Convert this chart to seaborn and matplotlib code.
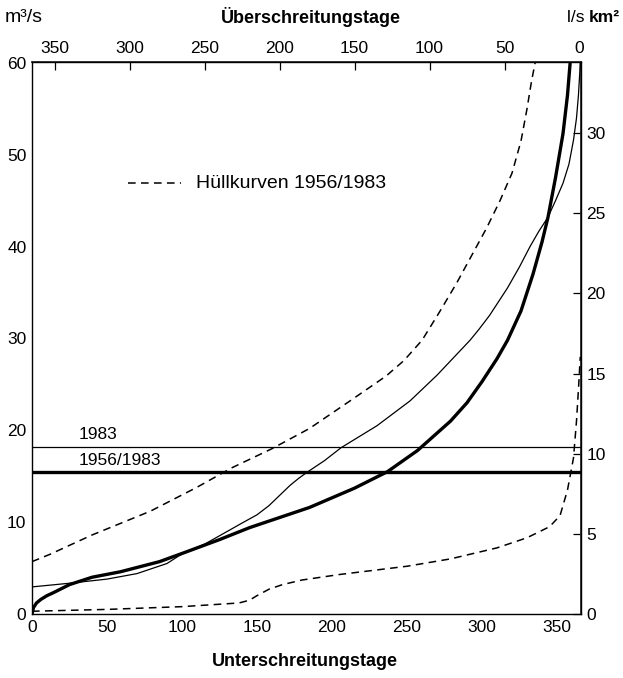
import matplotlib
matplotlib.use("Agg")
import matplotlib.pyplot as plt
import seaborn as sns

# ---- data ----
# thick solid: mean duration curve 1956/1983
thick_days = [0, 1, 3, 6, 10, 14, 25, 40, 59, 85, 101, 125, 145, 165, 185, 215, 237, 257, 279, 290, 300, 310, 317, 326, 334, 340, 344, 349, 354, 357, 359]
thick_q = [0, 0.7, 1.2, 1.6, 2.0, 2.3, 3.2, 4.0, 4.6, 5.7, 6.65, 8.1, 9.4, 10.5, 11.6, 13.7, 15.5, 17.8, 21.0, 23.0, 25.3, 27.8, 29.8, 33.0, 37.0, 40.5, 43.2, 47.5, 52.3, 56.5, 60.5]

# thin solid: 1983
thin_days = [0, 25, 50, 70, 90, 101, 115, 127, 140, 150, 158, 165, 172, 178, 184, 195, 206, 230, 252, 270, 292, 298, 305, 311, 317, 325, 332, 338, 344, 349, 354, 358, 361, 363, 364.3, 365.2, 365.6]
thin_q = [2.95, 3.35, 3.8, 4.4, 5.5, 6.65, 7.6, 8.7, 9.9, 10.8, 11.8, 12.9, 14.0, 14.8, 15.5, 16.7, 18.1, 20.5, 23.2, 26.0, 29.8, 31.0, 32.5, 34.0, 35.5, 37.8, 40.0, 41.7, 43.2, 45.0, 46.9, 49.0, 51.6, 54.0, 56.5, 59.0, 60.5]

# dashed upper envelope
upper_days = [0, 12, 40, 79, 110, 133, 160, 185, 212, 236, 248, 260, 271, 283, 293, 303, 312, 320, 326, 330, 333, 336]
upper_q = [5.7, 6.5, 8.6, 11.2, 13.8, 15.9, 18.0, 20.2, 23.2, 25.9, 27.6, 29.8, 32.7, 36.0, 39.0, 42.0, 45.0, 48.0, 51.5, 55.0, 58.0, 60.5]

# dashed lower envelope
lower_days = [0, 50, 100, 138, 145, 150, 158, 167, 180, 205, 250, 279, 310, 330, 345, 352, 357, 361, 363, 364.5, 365.5]
lower_q = [0.3, 0.5, 0.8, 1.2, 1.5, 2.0, 2.7, 3.2, 3.7, 4.3, 5.2, 6.0, 7.2, 8.3, 9.5, 10.7, 13.5, 17.0, 21.0, 25.0, 28.0]

mq_1983 = 18.2
mq_1956_1983 = 15.5

bottom_ticks = [0, 50, 100, 150, 200, 250, 300, 350]
top_ticks = [0, 50, 100, 150, 200, 250, 300, 350]
left_ticks = [0, 10, 20, 30, 40, 50, 60]
right_ticks = [0, 5, 10, 15, 20, 25, 30]
area_factor = 1.745  # m3/s per (l/s km2)

sns.set_theme(style="white")
plt.rcParams['font.family'] = ['Liberation Sans', 'DejaVu Sans']
plt.rcParams['text.color'] = 'black'

fig = plt.figure(figsize=(6.23, 6.78), dpi=100)
ax = fig.add_axes([32/623, 64/678, (581-32)/623, (614-62)/678])

dash = (0, (5, 3.5))
sns.lineplot(x=thick_days, y=thick_q, ax=ax, color='black', lw=2.4, sort=False, estimator=None)
sns.lineplot(x=thin_days, y=thin_q, ax=ax, color='black', lw=0.9, sort=False, estimator=None)
sns.lineplot(x=upper_days, y=upper_q, ax=ax, color='black', lw=1.1, sort=False, estimator=None, linestyle=dash)
sns.lineplot(x=lower_days, y=lower_q, ax=ax, color='black', lw=1.1, sort=False, estimator=None, linestyle=dash)

ax.axhline(mq_1983, color='black', lw=0.9)
ax.axhline(mq_1956_1983, color='black', lw=2.4)
ax.text(31, mq_1983 + 0.5, "1983", fontsize=12.5, ha='left', va='bottom')
ax.text(31, mq_1956_1983 + 0.45, "1956/1983", fontsize=12.5, ha='left', va='bottom')

# legend for envelope curves
ax.plot([64, 99], [46.9, 46.9], color='black', lw=1.1, linestyle=dash)
ax.text(109, 46.9, "Hüllkurven 1956/1983", fontsize=14, ha='left', va='center')

ax.set_xlim(0, 366)
ax.set_ylim(0, 60.1)
ax.set_xticks(bottom_ticks)
ax.set_yticks(left_ticks)
ax.set_xlabel("")
ax.set_ylabel("")
for s in ax.spines.values():
    s.set_color('black')
    s.set_linewidth(1.0)
ax.tick_params(direction='in', length=6, width=0.9, colors='black', labelsize=12.5, pad=4)

top = ax.secondary_xaxis('top', functions=(lambda d: 365 - d, lambda d: 365 - d))
top.set_xticks(top_ticks)
top.tick_params(direction='in', length=6, width=0.9, colors='black', labelsize=12.5, pad=4)

right = ax.secondary_yaxis('right', functions=(lambda q: q / area_factor, lambda s: s * area_factor))
right.set_yticks(right_ticks)
right.tick_params(direction='in', length=6, width=0.9, colors='black', labelsize=12.5, pad=4)

fig.text(5/623, 1 - 17/678, "m³/s", fontsize=14, ha='left', va='center')
fig.text(311/623, 1 - 17/678, "Überschreitungstage", fontsize=13, fontweight='bold', ha='center', va='center')
fig.text(589/623, 1 - 17/678, "l/s ", fontsize=12.5, ha='right', va='center')
fig.text(589/623, 1 - 17/678, "km²", fontsize=12.5, fontweight='bold', ha='left', va='center')
fig.text(305/623, 1 - 662/678, "Unterschreitungstage", fontsize=13, fontweight='bold', ha='center', va='center')

fig.savefig("out.png", dpi=100)
